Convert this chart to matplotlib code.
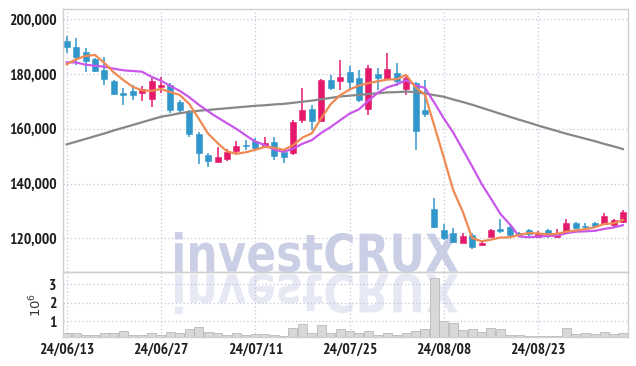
import matplotlib
matplotlib.use("Agg")
import matplotlib.pyplot as plt
import numpy as np
from matplotlib import font_manager as fm
from matplotlib.font_manager import FontProperties
from matplotlib.patches import PathPatch
from matplotlib.textpath import TextPath
from matplotlib.transforms import Affine2D

# trading-day tick labels (every 10th session)
tick_pos = [0, 10, 20, 30, 40, 50]
tick_labels = ["24/06/13", "24/06/27", "24/07/11", "24/07/25", "24/08/08", "24/08/23"]

opens = [192100, 190000, 188200, 185500, 181500, 177500, 173000, 173800, 173200, 170900,
         175400, 176000, 169900, 166300, 158100, 150400, 148000, 148900, 151900, 154200,
         155700, 153700, 155100, 151600, 151300, 163200, 167200, 163000, 177800, 177600,
         180600, 178500, 167200, 180000, 178200, 180500, 174700, 176600, 166900, 130700,
         123000, 121800, 118400, 121200, 117700, 120600, 123300, 124200, 122100, 123000,
         120600, 123000, 120600, 122400, 125500, 124500, 125700, 125200, 124900, 126100]
highs = [193900, 193100, 189400, 186000, 186100, 177800, 174800, 176000, 175600, 178500,
         178800, 176600, 170500, 166900, 158900, 151100, 153500, 152500, 155700, 155900,
         156500, 157100, 156900, 152300, 163200, 174800, 168700, 178100, 179700, 185100,
         183000, 181500, 183300, 182100, 187600, 183900, 179300, 177200, 177800, 134600,
         125100, 123900, 122100, 121800, 119000, 123300, 126900, 124600, 122300, 123300,
         122800, 123300, 123300, 126900, 125900, 125500, 126000, 129100, 127200, 130400]
lows = [187600, 183300, 180900, 180800, 176000, 172500, 168600, 170500, 170200, 167900,
        173000, 165700, 165700, 156900, 147000, 145900, 148000, 148400, 151100, 152200,
        152500, 153700, 148600, 147600, 150400, 162000, 159700, 162600, 174200, 174200,
        174600, 169900, 165000, 174200, 177800, 175600, 172500, 152300, 164400, 123700,
        119400, 118400, 118200, 116000, 117200, 120400, 121800, 121000, 120900, 120600,
        120400, 120000, 120000, 122100, 123300, 123700, 124200, 124900, 124300, 125700]
closes = [189800, 186300, 184800, 181200, 178200, 172600, 172400, 172400, 174500, 177600,
          175900, 166900, 166900, 158100, 151100, 148400, 149800, 151400, 153700, 153900,
          152900, 154900, 150200, 149600, 162400, 166800, 163000, 177800, 175000, 178800,
          177000, 170500, 182100, 178500, 181800, 177600, 178500, 159300, 165400, 124300,
          120000, 118800, 120800, 116700, 118200, 123000, 122700, 121200, 121200, 121600,
          122100, 121200, 122100, 125500, 123700, 124300, 124600, 128200, 126700, 129700]
volumes = [350000, 350000, 260000, 260000, 370000, 370000, 430000, 260000, 220000, 320000,
           260000, 410000, 320000, 540000, 650000, 410000, 350000, 240000, 320000, 240000,
           300000, 300000, 240000, 160000, 640000, 820000, 350000, 770000, 370000, 540000,
           450000, 320000, 430000, 240000, 320000, 260000, 320000, 450000, 540000, 3330000,
           1000000, 870000, 490000, 540000, 410000, 640000, 540000, 260000, 260000, 200000,
           200000, 200000, 200000, 600000, 300000, 320000, 300000, 410000, 300000, 350000]

# moving averages as drawn on the chart
ma5 = [183560, 185390, 186600, 186960, 184060, 180620, 177830, 175340, 174010, 173880,
       174540, 173440, 172350, 169060, 163760, 158250, 154830, 151740, 150870, 151440,
       152340, 153370, 153120, 152290, 153990, 156770, 158370, 163900, 168990, 172270,
       174320, 175830, 176690, 177370, 177980, 178100, 179680, 175120, 172510, 161000,
       149480, 137550, 129850, 120120, 118900, 119510, 120290, 120370, 121270, 121950,
       121750, 121460, 121620, 122470, 122890, 123340, 124020, 125240, 125490, 126710]
ma10 = [184290, 184250, 183420, 183050, 182690, 181960, 181370, 181110, 180860, 178970,
        177580, 175640, 173850, 171530, 168820, 166390, 164140, 162050, 159960, 157600,
        155300, 154100, 152430, 151580, 152710, 154550, 155870, 158510, 160640, 163130,
        165540, 167100, 170300, 173180, 175130, 176210, 177760, 175900, 174940, 169490,
        163790, 158610, 152490, 146310, 139950, 134490, 128920, 125110, 120690, 120420,
        120630, 120870, 121000, 121870, 122420, 122550, 122740, 123430, 123980, 124800]
ma60 = [154300, 155300, 156300, 157300, 158300, 159400, 160400, 161400, 162400, 163400,
        164400, 165000, 165700, 166200, 166600, 166900, 167200, 167500, 167800, 168100,
        168400, 168600, 168900, 169100, 169500, 169900, 170300, 170800, 171300, 171800,
        172100, 172400, 172700, 173000, 173300, 173400, 173600, 173400, 172900, 172300,
        171700, 170700, 169800, 168800, 167700, 166600, 165500, 164400, 163300, 162300,
        161200, 160200, 159200, 158200, 157300, 156400, 155500, 154500, 153600, 152600]

UP = "#e5196c"
DOWN = "#3196ca"
GRID = "#c4c4dc"
SPINE = "#d0d0d0"
LABEL = "#1e1e1e"

# narrow (bold if possible) face for the tick labels
narrow = [f for f in fm.fontManager.ttflist
          if "Narrow" in f.name and f.style == "normal"]
narrow.sort(key=lambda f: f.weight != 700)
if narrow:
    tick_prop = FontProperties(fname=narrow[0].fname, size=11.2)
else:
    tick_prop = FontProperties(family="Liberation Sans", size=9.5)

fig = plt.figure(figsize=(6.36, 3.66), dpi=100, facecolor="white")
ax = fig.add_axes([0.0995, 0.2568, 0.8874, 0.7178], facecolor="none")
axv = fig.add_axes([0.0995, 0.0784, 0.8874, 0.1784], facecolor="none")

# watermark with its mirror image, behind both panels
prop = FontProperties(family="DejaVu Sans", weight="bold")
tp = TextPath((0, 0), "investCRUX", size=1, prop=prop)
ext = tp.get_extents()
sx = (458 - 175) / ext.width
sy = 40.5 / ext.height
to_fig = Affine2D().scale(1 / 636, 1 / 366) + fig.transFigure
wm = Affine2D().translate(-ext.x0, -ext.y0).scale(sx, sy).translate(175, 93.5)
wm_r = Affine2D().translate(-ext.x0, -ext.y0).scale(sx, -sy).translate(175, 92.5)
fig.add_artist(PathPatch(tp, transform=wm + to_fig, facecolor="#cbcfe6",
                         edgecolor="none", zorder=-1))
fig.add_artist(PathPatch(tp, transform=wm_r + to_fig, facecolor="#e6e8f3",
                         edgecolor="none", zorder=-1))

x = np.arange(len(closes))
o = np.array(opens)
c = np.array(closes)
colors = [UP if cc >= oo else DOWN for oo, cc in zip(o, c)]
body_low = np.minimum(o, c)
body_h = np.maximum(np.abs(c - o), 350)

ax.vlines(x, lows, highs, colors=colors, lw=1.1, zorder=2)
ax.bar(x, body_h, bottom=body_low, width=0.64, color=colors, edgecolor=colors,
       lw=0.4, zorder=2)
ax.plot(x, ma60, color="#878787", lw=1.6, zorder=3)
ax.plot(x, ma10, color="#c957ea", lw=1.6, zorder=3)
ax.plot(x, ma5, color="#ef8a52", lw=1.6, zorder=3)

yt = [120000, 140000, 160000, 180000, 200000]
ax.set_xlim(-0.36, 59.5)
ax.set_ylim(107700, 203650)
ax.set_yticks(yt)
ax.set_yticklabels([f"{v:,}" for v in yt], fontproperties=tick_prop, color=LABEL)
ax.set_xticks(tick_pos)
ax.tick_params(axis="x", labelbottom=False, length=0)
ax.tick_params(axis="y", length=0, pad=5)
ax.grid(True, color=GRID, linestyle=(0, (1, 2)), lw=0.9)
ax.set_axisbelow(True)

axv.bar(x, np.array(volumes) / 1e6, width=0.95, color="#d8d8d8", edgecolor="#b8b8b8",
        lw=0.6, zorder=2)
axv.set_xlim(-0.36, 59.5)
axv.set_ylim(0.11, 3.68)
axv.set_yticks([1, 2, 3])
axv.set_yticklabels(["1", "2", "3"], fontproperties=tick_prop, color=LABEL)
axv.set_xticks(tick_pos)
axv.set_xticklabels(tick_labels, fontproperties=tick_prop, color=LABEL)
axv.tick_params(axis="x", length=0, pad=4)
axv.tick_params(axis="y", length=0, pad=5)
axv.set_ylabel("$10^6$", fontsize=9.5, color="#333333", labelpad=3)
axv.grid(True, color=GRID, linestyle=(0, (1, 2)), lw=0.9)
axv.set_axisbelow(True)

for a in (ax, axv):
    for s in a.spines.values():
        s.set_color(SPINE)
        s.set_linewidth(1.0)

fig.savefig("out.png", dpi=100)
